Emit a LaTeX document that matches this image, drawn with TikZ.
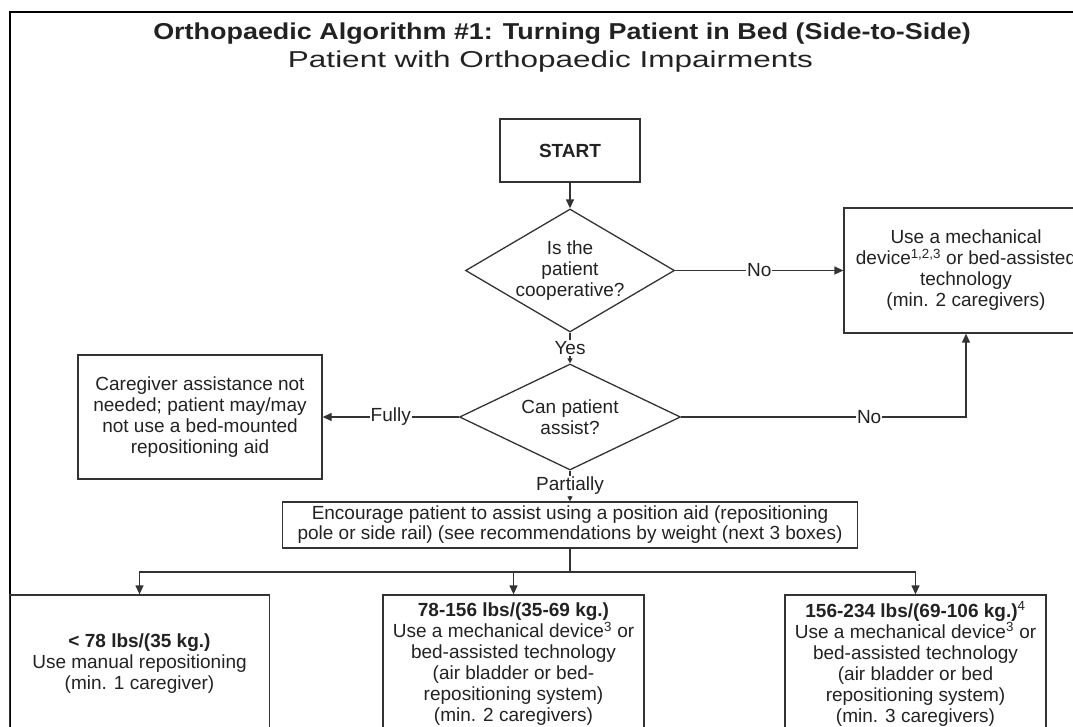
\documentclass[tikz,border=0pt]{standalone}
\usepackage{fontspec}
\setmainfont{Liberation Sans}
\usetikzlibrary{shapes.geometric,arrows.meta}
\definecolor{ink}{HTML}{222222}
\definecolor{edge}{HTML}{333333}
\begin{document}
\begin{tikzpicture}[x=1pt,y=-1pt,
  every node/.style={text=ink},
  body/.style={font=\fontsize{19}{21}\selectfont},
  box/.style={body, draw=edge, line width=1.3pt, inner sep=0pt, align=center},
  decision/.style={draw=edge, line width=1.3pt, diamond, inner sep=0pt},
  txt/.style={body, align=center, inner sep=0pt},
  lbl/.style={body, fill=white, inner sep=1pt},
  link/.style={draw=edge, line width=1.3pt},
  arr/.style={link, -{Triangle[length=9pt,width=8pt]}},
  sarr/.style={link, -{Triangle[length=5pt,width=5pt]}},
]
\useasboundingbox (0,0) rectangle (1073,726);
\clip (0,0) rectangle (1073,726);

% outer frame
\draw[line width=2.2pt, black] (10,12) rectangle (1110,760);

% headings
\node[font=\fontsize{23}{27}\selectfont\bfseries, anchor=base, inner sep=0pt] (title) at (562,39)
  {\scalebox{1.171}[1]{Orthopaedic Algorithm \#1: Turning Patient in Bed (Side-to-Side)}};
\node[font=\fontsize{23}{27}\selectfont, anchor=base, inner sep=0pt] (subtitle) at (550.5,67.5)
  {\scalebox{1.369}[1]{Patient with Orthopaedic Impairments}};

% flow nodes
\node[box, font=\fontsize{19}{21}\selectfont\bfseries, minimum width=140, minimum height=63] (start) at (570,150.5) {START};

\node[decision, minimum width=209, minimum height=123] (q1) at (570,270.5) {};
\node[txt] (q1t) at (q1) {Is the\\patient\\cooperative?};

\node[box, minimum width=244, minimum height=125] (mech) at (966,270.5)
  {Use a mechanical\\device\textsuperscript{1,2,3} or bed-assisted\\technology\\(min. 2 caregivers)};

\node[decision, minimum width=221, minimum height=106] (q2) at (570,417) {};
\node[txt] (q2t) at (q2) {Can patient\\assist?};

\node[box, minimum width=244, minimum height=124] (fully) at (200,417)
  {Caregiver assistance not\\needed; patient may/may\\not use a bed-mounted\\repositioning aid};

\node[box, font=\fontsize{19}{20}\selectfont, minimum width=575, minimum height=46] (enc) at (570,525)
  {Encourage patient to assist using a position aid (repositioning\\pole or side rail) (see recommendations by weight (next 3 boxes)};

\node[box, minimum width=260, minimum height=138] (w1) at (139.5,664)
  {\textbf{< 78 lbs/(35 kg.)}\\Use manual repositioning\\(min. 1 caregiver)};
\node[box, minimum width=261, minimum height=138] (w2) at (513.5,664)
  {\textbf{78-156 lbs/(35-69 kg.)}\\Use a mechanical device\textsuperscript{3} or\\bed-assisted technology\\(air bladder or bed-\\repositioning system)\\(min. 2 caregivers)};
\node[box, minimum width=261, minimum height=138] (w3) at (915.5,664)
  {\textbf{156-234 lbs/(69-106 kg.)}\textsuperscript{4}\\Use a mechanical device\textsuperscript{3} or\\bed-assisted technology\\(air bladder or bed\\repositioning system)\\(min. 3 caregivers)};

% connectors
\draw[arr] (start) -- (q1);
\draw[arr] (q1) -- node[lbl] (no1) {No} (mech);
\draw[sarr] (q1) -- node[lbl] (yes) {Yes} (q2);
\draw[arr] (q2.east) -- node[lbl, pos=0.66] (no2) {No} (q2.east -| mech.south) -- (mech.south);
\draw[arr] (q2) -- node[lbl] (fl) {Fully} (fully);
\draw[sarr] (q2) -- node[lbl] (part) {Partially} (enc);

\coordinate (split) at (570,572);
\draw[link] (enc.south) -- (split);
\draw[arr] (split) -| (w1);
\draw[arr] (split) -| (w2);
\draw[arr] (split) -| (w3);
\end{tikzpicture}
\end{document}
